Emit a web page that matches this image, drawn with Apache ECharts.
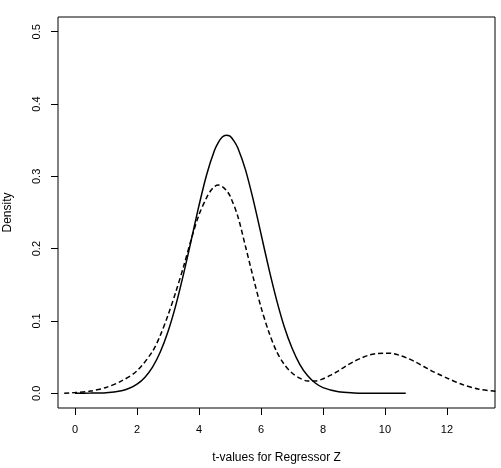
<!DOCTYPE html>
<html>
<head>
<meta charset="utf-8">
<script src="https://cdn.jsdelivr.net/npm/echarts@6/dist/echarts.min.js"></script>
<style>html,body{margin:0;padding:0;background:#fff;}#c{width:501px;height:468px;}</style>
</head>
<body>
<div id="c"></div>
<script>
// Solid curve (x, density)
const solidX = [0, 0.5, 1.0, 1.5, 1.75, 2.0, 2.25, 2.5, 2.75, 3.0, 3.25, 3.5, 3.75, 4.0, 4.25, 4.5, 4.625, 4.75, 4.875, 5.0, 5.125, 5.25, 5.5, 5.75, 6.0, 6.25, 6.5, 6.75, 7.0, 7.25, 7.5, 7.75, 8.0, 8.5, 9.0, 9.5, 10.0, 10.67];
const solidY = [0.0000, 0.0002, 0.0008, 0.0036, 0.0069, 0.0126, 0.0219, 0.0362, 0.0570, 0.0853, 0.1215, 0.1647, 0.2120, 0.2599, 0.3030, 0.3360, 0.3470, 0.3545, 0.3570, 0.3555, 0.3490, 0.3395, 0.3090, 0.2675, 0.2205, 0.1730, 0.1295, 0.0920, 0.0625, 0.0400, 0.0245, 0.0142, 0.0078, 0.0020, 0.0005, 0.0001, 0.0000, 0.0000];
// Dashed curve (x, density)
const dashX = [-0.35, 0, 0.5, 1.0, 1.5, 2.0, 2.5, 2.75, 3.0, 3.25, 3.5, 3.75, 4.0, 4.25, 4.375, 4.5, 4.625, 4.75, 4.875, 5.0, 5.25, 5.5, 5.75, 6.0, 6.25, 6.5, 6.75, 7.0, 7.25, 7.5, 7.75, 8.0, 8.25, 8.5, 8.75, 9.0, 9.25, 9.5, 9.75, 10.0, 10.25, 10.5, 10.75, 11.0, 11.25, 11.5, 11.75, 12.0, 12.5, 13.0, 13.5, 13.8];
const dashY = [0.000, 0.001, 0.003, 0.008, 0.017, 0.031, 0.058, 0.080, 0.108, 0.140, 0.175, 0.213, 0.247, 0.271, 0.280, 0.286, 0.288, 0.286, 0.281, 0.273, 0.245, 0.203, 0.160, 0.119, 0.085, 0.058, 0.040, 0.028, 0.021, 0.017, 0.017, 0.020, 0.025, 0.031, 0.038, 0.044, 0.049, 0.053, 0.055, 0.0555, 0.055, 0.052, 0.048, 0.043, 0.037, 0.031, 0.026, 0.021, 0.012, 0.006, 0.003, 0.002];
const xTicks = [0, 2, 4, 6, 8, 10, 12];
const yTicks = [0, 0.1, 0.2, 0.3, 0.4, 0.5];
const xTitle = 't-values for Regressor Z';
const yTitle = 'Density';

const zip = (xs, ys) => xs.map((x, i) => [x, ys[i]]);
const FONT = 'Liberation Sans, Arial, Helvetica, sans-serif';

const chart = echarts.init(document.getElementById('c'), null, {renderer: 'canvas'});
chart.setOption({
  animation: false,
  backgroundColor: '#ffffff',
  grid: {left: 58, top: 17, width: 437, height: 391, show: true, borderColor: '#000', borderWidth: 1,
         backgroundColor: 'transparent', containLabel: false, outerBoundsMode: 'none'},
  xAxis: {
    type: 'value', min: -0.55, max: 13.55,
    name: xTitle, nameLocation: 'middle', nameGap: 44,
    nameTextStyle: {fontFamily: FONT, fontSize: 12, color: '#000'},
    axisLine: {show: false, onZero: false},
    splitLine: {show: false},
    axisTick: {show: true, inside: false, length: 7, lineStyle: {color: '#000', width: 1}, customValues: xTicks},
    axisLabel: {customValues: xTicks, margin: 16, fontFamily: FONT, fontSize: 11, color: '#000', formatter: v => String(v)}
  },
  yAxis: {
    type: 'value', min: -0.0204, max: 0.5204,
    name: yTitle, nameLocation: 'middle', nameGap: 44, nameRotate: 90,
    nameTextStyle: {fontFamily: FONT, fontSize: 12, color: '#000'},
    axisLine: {show: false, onZero: false},
    splitLine: {show: false},
    axisTick: {show: true, inside: false, length: 7, lineStyle: {color: '#000', width: 1}, customValues: yTicks},
    axisLabel: {customValues: yTicks, margin: 16, rotate: 90, fontFamily: FONT, fontSize: 11, color: '#000', formatter: v => v.toFixed(1)}
  },
  series: [
    {type: 'line', data: zip(solidX, solidY), showSymbol: false, smooth: 0.3, clip: true,
     lineStyle: {color: '#000', width: 1.5, type: 'solid'}},
    {type: 'line', data: zip(dashX, dashY), showSymbol: false, smooth: 0.3, clip: true,
     lineStyle: {color: '#000', width: 1.5, type: [5, 3]}}
  ]
});
</script>
</body>
</html>
